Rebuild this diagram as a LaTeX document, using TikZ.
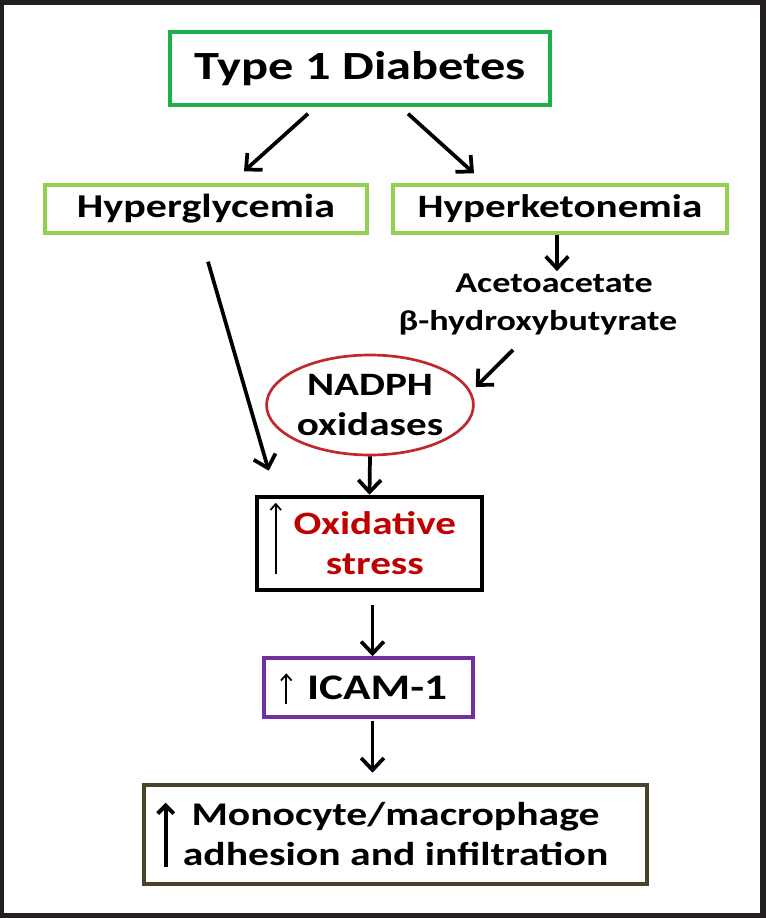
\documentclass[tikz,border=0pt]{standalone}
\usepackage{fontspec}
\setmainfont{Carlito}[FakeStretch=1.26]
\usetikzlibrary{arrows.meta,calc,shapes.geometric}
\definecolor{framecol}{HTML}{231F20}
\definecolor{dgreen}{HTML}{1FAF4E}
\definecolor{lgreen}{HTML}{92D050}
\definecolor{dred}{HTML}{C00000}
\definecolor{ellred}{HTML}{C0282D}
\definecolor{purp}{HTML}{7030A0}
\definecolor{olive}{HTML}{494429}
\tikzset{
  box/.style={draw, rectangle, inner sep=0pt, font=\bfseries, align=center},
  txt/.style={inner sep=0pt, font=\bfseries, align=center},
  flow/.style={line width=2.8pt, -{Straight Barb[length=9pt,width=17pt,line width=2.8pt]}},
  upthin/.style={line width=1.3pt, -{Straight Barb[length=4.5pt,width=8pt,line width=1.3pt]}},
  upthick/.style={line width=3pt, -{Straight Barb[length=6pt,width=12pt,line width=3pt]}}
}
\begin{document}
\begin{tikzpicture}[x=0.75pt,y=-0.75pt]
\useasboundingbox (0,0) rectangle (766,918);
\fill[framecol] (0,0) rectangle (766,918);
\fill[white] (4,5) rectangle (760,913);

\node[box, draw=dgreen, line width=2.6pt, minimum width=285pt, minimum height=54.75pt,
      font=\bfseries\fontsize{30}{34}\selectfont] (type1) at (360,68.5) {Type 1 Diabetes};
\node[box, draw=lgreen, line width=2.6pt, minimum width=241.5pt, minimum height=36pt,
      font=\bfseries\fontsize{25}{29}\selectfont] (hyperg) at (206,209) {Hyperglycemia};
\node[box, draw=lgreen, line width=2.6pt, minimum width=250.5pt, minimum height=36pt,
      font=\bfseries\fontsize{24.5}{29}\selectfont] (hyperk) at (560,209) {\raisebox{3pt}{Hyperketonemia}};
\node[txt, anchor=base, font=\bfseries\fontsize{21.5}{28}\selectfont] (acet) at (554,292) {Acetoacetate};
\node[txt, anchor=base, font=\bfseries\fontsize{21.5}{28}\selectfont] (bhb) at (538,330) {β-hydroxybutyrate};
\node[ellipse, draw=ellred, line width=2pt, inner sep=0pt, minimum width=148.5pt, minimum height=75pt,
      font=\bfseries\fontsize{24.5}{30}\selectfont, align=center] (nadph) at (370,405) {NADPH\\oxidases};
\node[box, draw=black, line width=3.4pt, minimum width=168.75pt, minimum height=69.75pt,
      font=\bfseries\fontsize{24.5}{30}\selectfont, text=dred] (oxid) at (369.5,543.5) {\hspace*{8pt}Oxidative\\\hspace*{8pt}stress};
\node[box, draw=purp, line width=2.6pt, minimum width=156.75pt, minimum height=44.25pt,
      font=\bfseries\fontsize{27}{32}\selectfont] (icam) at (368.5,687.5) {\hspace*{13pt}ICAM-1};
\node[box, draw=olive, line width=3.4pt, minimum width=377.25pt, minimum height=74.25pt,
      font=\bfseries\fontsize{24.8}{30}\selectfont] (mono) at (395.5,834.5) {Monocyte/macrophage\\adhesion and infiltration};

\draw[flow] ($(type1.south)+(-52,7)$) -- ($(hyperg.north)+(38,-12)$);
\draw[flow] ($(type1.south)+(48,7)$) -- ($(hyperk.north)+(-86,-10)$);
\draw[flow] ($(hyperk.south)+(-3,0)$) -- ($(acet.north)+(3,-2)$);
\draw[flow] ($(bhb.south)+(-25,15)$) -- ($(nadph.east)+(1,-18)$);
\draw[flow] ($(hyperg.south)+(2,27)$) -- ($(oxid.north west)+(14,-24)$);
\draw[flow] (nadph.south) -- (oxid.north);
\draw[flow] ($(oxid.south)+(3,13)$) -- ($(icam.north)+(4,0)$);
\draw[flow] ($(icam.south)+(4,2)$) -- ($(mono.north)+(-23,-10)$);

\draw[upthin] ($(oxid.south west)+(21,-18)$) -- ($(oxid.north west)+(21,8)$);
\draw[upthin] ($(icam.south west)+(24,-15)$) -- ($(icam.north west)+(24,17)$);
\draw[upthick] ($(mono.south west)+(24,-19)$) -- ($(mono.north west)+(24,20)$);
\end{tikzpicture}
\end{document}
